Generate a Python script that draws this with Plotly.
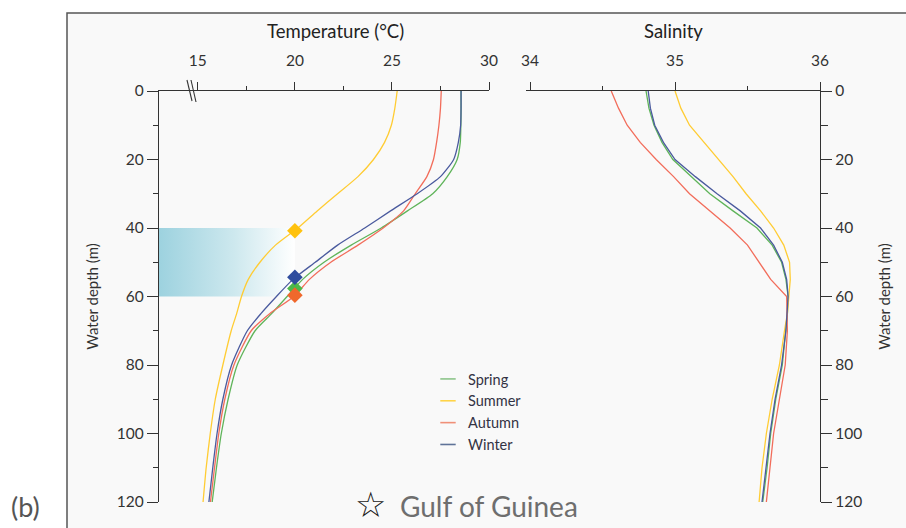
import plotly.graph_objects as go

# ---- data -------------------------------------------------------------
seasons = ["Spring", "Summer", "Autumn", "Winter"]
depth = [0, 5, 10, 15, 20, 25, 30, 35, 40, 45, 50, 55, 60, 65, 70, 80, 90, 100, 110, 120]

temp_spring = [28.56, 28.56, 28.55, 28.52, 28.36, 27.85, 27.10, 25.80, 24.45, 22.90, 21.50, 20.40,
               19.60, 18.80, 17.95, 17.03, 16.56, 16.21, 15.96, 15.74]
temp_summer = [25.27, 25.15, 24.97, 24.62, 24.05, 23.25, 22.20, 21.15, 20.15, 19.00, 18.20, 17.60,
               17.25, 17.00, 16.72, 16.29, 15.90, 15.64, 15.43, 15.27]
temp_autumn = [27.54, 27.50, 27.42, 27.30, 27.14, 26.80, 26.20, 25.60, 24.55, 23.25, 21.85, 20.75,
               19.95, 18.70, 17.75, 16.86, 16.39, 16.08, 15.86, 15.65]
temp_winter = [28.56, 28.56, 28.54, 28.42, 28.18, 27.50, 26.30, 24.93, 23.60, 22.20, 21.05, 19.90,
               19.05, 18.25, 17.55, 16.74, 16.29, 15.99, 15.77, 15.57]

sal_spring = [34.800, 34.820, 34.855, 34.910, 34.985, 35.110, 35.240, 35.400, 35.565, 35.670, 35.735,
              35.765, 35.780, 35.775, 35.765, 35.740, 35.695, 35.660, 35.635, 35.605]
sal_summer = [35.000, 35.040, 35.100, 35.200, 35.300, 35.400, 35.490, 35.590, 35.680, 35.750, 35.790,
              35.795, 35.785, 35.775, 35.755, 35.720, 35.670, 35.630, 35.600, 35.580]
sal_autumn = [34.560, 34.610, 34.670, 34.760, 34.870, 34.990, 35.100, 35.240, 35.380, 35.500, 35.580,
              35.660, 35.770, 35.775, 35.775, 35.760, 35.720, 35.680, 35.655, 35.630]
sal_winter = [34.815, 34.830, 34.860, 34.920, 35.000, 35.140, 35.290, 35.450, 35.590, 35.680, 35.740,
              35.770, 35.780, 35.775, 35.765, 35.735, 35.690, 35.655, 35.630, 35.600]

# depth where each season's profile crosses 20 °C
marker_temp = [20, 20, 20, 20]
marker_depth = [57.7, 40.8, 59.6, 54.4]

# thermocline band
band_depth = [40, 60]
band_temp = [13, 20]

temp_ticks = [15, 20, 25, 30]
temp_minor = [17.5, 22.5, 27.5]
sal_ticks = [34, 35, 36]
sal_minor = [34.5, 35.5]
depth_ticks = [0, 20, 40, 60, 80, 100, 120]

# ---- styling ----------------------------------------------------------
W, H = 906, 528
line_colors = ["#5fb45a", "#ffcc33", "#f26d5b", "#4a5a9e"]
marker_colors = ["#4cb84a", "#ffc20e", "#f0682c", "#2f4d9e"]
legend_colors = ["#8cc48a", "#ffd448", "#f09078", "#5f7398"]
FONT = "Lato, 'Open Sans', sans-serif"
INK = "#333333"


def px(x):
    return x / W


def py(y):
    return 1 - y / H


temps = [temp_spring, temp_summer, temp_autumn, temp_winter]
sals = [sal_spring, sal_summer, sal_autumn, sal_winter]

fig = go.Figure()

# gradient band behind the profiles
fig.add_trace(go.Scatter(
    x=[band_temp[0], band_temp[1], band_temp[1], band_temp[0], band_temp[0]],
    y=[band_depth[0], band_depth[0], band_depth[1], band_depth[1], band_depth[0]],
    mode="lines", line=dict(width=0), fill="toself",
    fillgradient=dict(type="horizontal",
                      colorscale=[[0, "#9dd2df"], [0.55, "#cde8ee"], [1, "#ffffff"]]),
    showlegend=False, hoverinfo="skip", xaxis="x", yaxis="y",
))

for name, t, s, c in zip(seasons, temps, sals, line_colors):
    fig.add_trace(go.Scatter(x=t, y=depth, mode="lines", name=name,
                             line=dict(color=c, width=1.3, shape="spline", smoothing=0.6),
                             showlegend=False, xaxis="x", yaxis="y"))
    fig.add_trace(go.Scatter(x=s, y=depth, mode="lines", name=name,
                             line=dict(color=c, width=1.3),
                             showlegend=False, xaxis="x2", yaxis="y2"))

for name, mt, md, mc in zip(seasons, marker_temp, marker_depth, marker_colors):
    fig.add_trace(go.Scatter(x=[mt], y=[md], mode="markers",
                             marker=dict(symbol="diamond", size=12, color=mc),
                             showlegend=False, cliponaxis=False, xaxis="x", yaxis="y"))

# legend entries with short line keys
for name, lc in zip(seasons, legend_colors):
    fig.add_trace(go.Scatter(x=[None], y=[None], mode="markers", name=name,
                             marker=dict(symbol="line-ew-open", size=11, color=lc,
                                         line=dict(color=lc, width=1.6)),
                             xaxis="x", yaxis="y"))

y_dom = [py(502), py(91)]
axis_common = dict(showline=True, linecolor=INK, linewidth=1.3, showgrid=False,
                   zeroline=False, tickcolor=INK, tickwidth=1.3, automargin=False,
                   tickfont=dict(family=FONT, size=15.5, color=INK))

fig.update_layout(
    width=W, height=H,
    margin=dict(l=0, r=0, t=0, b=0, autoexpand=False),
    paper_bgcolor="white", plot_bgcolor="rgba(0,0,0,0)",
    font=dict(family=FONT, color=INK),
    xaxis=dict(domain=[px(159), px(489)], range=[13, 30], side="top", anchor="y",
               tickmode="array", tickvals=temp_ticks, ticks="outside", ticklen=8,
               ticklabelstandoff=10,
               minor=dict(tickmode="array", tickvals=temp_minor, ticks="outside",
                          ticklen=4, tickcolor=INK, tickwidth=1.3),
               **axis_common),
    yaxis=dict(domain=y_dom, range=[120, 0], anchor="x", side="left",
               tickmode="array", tickvals=depth_ticks, ticks="outside", ticklen=11,
               minor=dict(dtick=10, tick0=0, ticks="outside", ticklen=5,
                          tickcolor=INK, tickwidth=1.3),
               title=dict(text="Water depth (m)", standoff=14,
                          font=dict(family=FONT, size=15, color=INK)),
               **axis_common),
    xaxis2=dict(domain=[px(526), px(820)], range=[33.972, 36], side="top", anchor="y2",
                tickmode="array", tickvals=sal_ticks, ticks="outside", ticklen=8,
                ticklabelstandoff=10,
                minor=dict(tickmode="array", tickvals=sal_minor, ticks="outside",
                           ticklen=4, tickcolor=INK, tickwidth=1.3),
                **axis_common),
    yaxis2=dict(domain=y_dom, range=[120, 0], anchor="x2", side="right",
                tickmode="array", tickvals=depth_ticks, ticks="outside", ticklen=11,
                minor=dict(dtick=10, tick0=0, ticks="outside", ticklen=7,
                           tickcolor=INK, tickwidth=1.3),
                title=dict(text="Water depth (m)", standoff=18,
                           font=dict(family=FONT, size=15, color=INK)),
                **axis_common),
    legend=dict(x=px(428), y=py(363), xanchor="left", yanchor="top",
                bgcolor="rgba(0,0,0,0)", borderwidth=0,
                font=dict(family=FONT, size=14.5, color="#333344"),
                tracegroupgap=0),
    shapes=[
        # panel frame
        dict(type="rect", xref="paper", yref="paper", layer="below",
             x0=px(67), x1=px(915), y0=py(13), y1=py(540),
             fillcolor="#f9f9f9", line=dict(color="#555555", width=1.5)),
        # axis break marks
        dict(type="line", xref="paper", yref="paper",
             x0=px(187), y0=py(80), x1=px(192), y1=py(101),
             line=dict(color=INK, width=1.1)),
        dict(type="line", xref="paper", yref="paper",
             x0=px(191), y0=py(80), x1=px(196), y1=py(102),
             line=dict(color=INK, width=1.1)),
    ],
    annotations=[
        dict(text="Temperature (°C)", xref="paper", yref="paper", x=px(335), y=py(31),
             xanchor="center", yanchor="middle",
             showarrow=False, font=dict(family=FONT, size=18.5, color="#222222")),
        dict(text="Salinity", xref="paper", yref="paper", x=px(673), y=py(31),
             xanchor="center", yanchor="middle",
             showarrow=False, font=dict(family=FONT, size=18.5, color="#222222")),
        dict(text="(b)", xref="paper", yref="paper", x=px(25), y=py(506),
             xanchor="center", yanchor="middle",
             showarrow=False, font=dict(family=FONT, size=27, color="#555555")),
        dict(text="☆", xref="paper", yref="paper", x=px(370), y=py(505),
             xanchor="center", yanchor="middle",
             showarrow=False, font=dict(family="DejaVu Sans", size=35, color="#1a1a1a")),
        dict(text="Gulf of Guinea", xref="paper", yref="paper", x=px(489), y=py(506),
             xanchor="center", yanchor="middle",
             showarrow=False, font=dict(family=FONT, size=28, color="#6e6e6e")),
    ],
)

fig.write_html("out.html")
